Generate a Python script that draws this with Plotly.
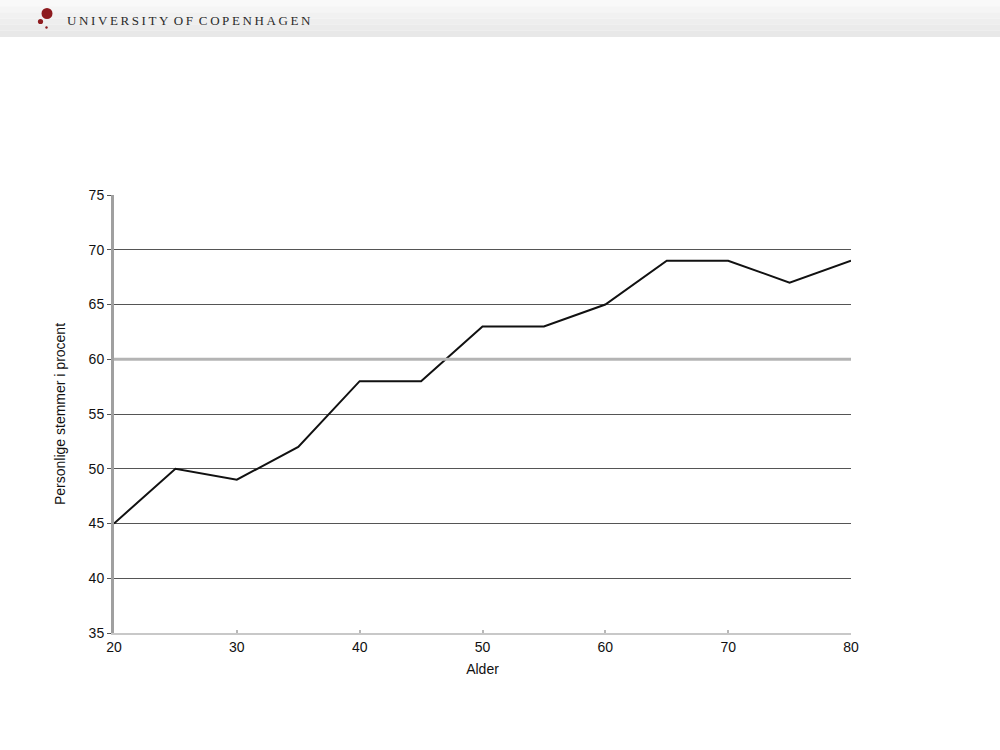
import plotly.graph_objects as go

alder = [20, 25, 30, 35, 40, 45, 50, 55, 60, 65, 70, 75, 80]
procent = [45, 50, 49, 52, 58, 58, 63, 63, 65, 69, 69, 67, 69]
x_ticks = [20, 30, 40, 50, 60, 70, 80]
y_ticks = [35, 40, 45, 50, 55, 60, 65, 70, 75]
header_text = "UNIVERSITY OF COPENHAGEN"
highlight_grid = 60

fig = go.Figure()
fig.add_trace(go.Scatter(x=alder, y=procent, mode="lines",
                         line=dict(color="#111111", width=2), showlegend=False,
                         hoverinfo="x+y"))

W, H = 1000, 750
pl, pr, pt, pb = 114, 149, 195, 117
pw, ph = W - pl - pr, H - pt - pb


def px(x):
    return (x - pl) / pw


def py(y):
    return (H - pb - y) / ph


shapes = []
bands = ["#f9f9f9", "#f5f5f5", "#f1f1f1", "#eeeeee", "#ebebeb", "#e8e8e8"]
n = len(bands)
for i, c in enumerate(bands):
    y0 = 37 * i / n
    y1 = 37 * (i + 1) / n
    shapes.append(dict(type="rect", xref="paper", yref="paper", layer="below",
                       x0=px(0), x1=px(W), y0=py(y1), y1=py(y0),
                       line=dict(width=0), fillcolor=c))
for cx, cy, r in [(47, 13.5, 5.5), (40.5, 21.5, 2.6), (46.5, 27.5, 1.2)]:
    shapes.append(dict(type="circle", xref="paper", yref="paper",
                       x0=px(cx - r), x1=px(cx + r), y0=py(cy + r), y1=py(cy - r),
                       line=dict(width=0), fillcolor="#8e1b1f"))
shapes.append(dict(type="line", xref="paper", yref="y", x0=0, x1=1,
                   y0=highlight_grid, y1=highlight_grid,
                   line=dict(color="#b4b4b4", width=3), layer="above"))

spaced = "\u2009".join(list(header_text)).replace("\u2009 \u2009", " \u2009")

fig.update_layout(
    width=W, height=H,
    margin=dict(l=pl, r=pr, t=pt, b=pb),
    paper_bgcolor="white", plot_bgcolor="white",
    font=dict(family="Liberation Sans, Arial, sans-serif", size=13, color="#111111"),
    shapes=shapes,
    annotations=[dict(text=spaced, xref="paper", yref="paper",
                      x=px(65), y=py(20), xanchor="left", yanchor="middle",
                      showarrow=False,
                      font=dict(family="Liberation Serif, serif", size=13, color="#2a2a2a"))],
    xaxis=dict(range=[20, 80], tickvals=x_ticks, showgrid=False, zeroline=False,
               showline=True, linecolor="#c8c8c8", linewidth=2,
               ticks="inside", ticklen=3, tickcolor="#b8b8b8", tickwidth=2,
               title=dict(text="Alder", standoff=10, font=dict(size=14)),
               tickfont=dict(size=14)),
    yaxis=dict(range=[35, 75], tickvals=y_ticks, showgrid=True, gridcolor="#555555",
               gridwidth=1, zeroline=False, showline=True, linecolor="#a0a0a0",
               linewidth=3, ticks="outside", ticklen=4, tickcolor="#555555", tickwidth=1,
               title=dict(text="Personlige stemmer i procent", standoff=20, font=dict(size=14)),
               tickfont=dict(size=14)),
)
fig.write_html("out.html", config={"displayModeBar": False},
               post_script="document.body.style.margin='0';")
